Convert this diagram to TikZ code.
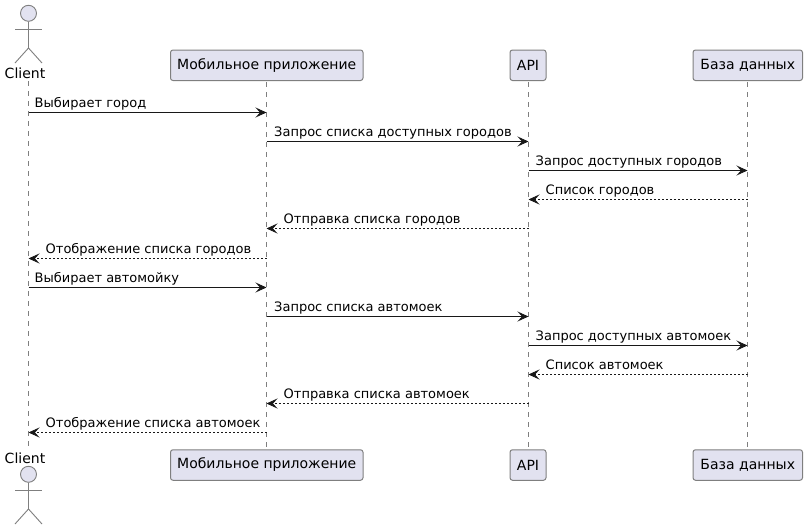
\documentclass[tikz,border=0pt]{standalone}
\usepackage{fontspec}
\setmainfont{DejaVu Sans}
\usetikzlibrary{arrows.meta,calc}
\definecolor{boxfill}{HTML}{E2E2F0}
\definecolor{linec}{HTML}{181818}
\definecolor{thinc}{HTML}{7F7F7F}
\tikzset{
  part/.style={draw=thinc,fill=boxfill,line width=1pt,rounded corners=2.5pt,inner sep=0pt,minimum height=30.5pt,font=\fontsize{14}{16}\selectfont,text=black},
  lifeline/.style={draw=thinc,line width=0.9pt,dash pattern=on 5pt off 5pt},
  actorline/.style={draw=thinc,line width=0.9pt,fill=none},
  head/.style={draw=thinc,line width=0.9pt,fill=boxfill,circle,minimum size=16pt,inner sep=0pt},
  actorlabel/.style={inner sep=0pt,font=\fontsize{14}{16}\selectfont,text=black},
  msglabel/.style={inner sep=0pt,anchor=base west,font=\fontsize{13}{15}\selectfont,text=black},
  msg/.style={draw=linec,line width=0.9pt,-{Stealth[length=11pt,width=10pt,inset=4.5pt,fill=linec]}},
  ret/.style={draw=linec,line width=0.7pt,dash pattern=on 2pt off 2pt,-{Stealth[length=11pt,width=10pt,inset=4.5pt,fill=linec,line width=0.7pt,sep=0pt]}},
}
\newcommand{\msgright}[6]{%
  \coordinate (m#1a) at (#2,#4);
  \coordinate (m#1b) at (#3,#4);
  \draw[msg] (m#1a) -- (m#1b);
  \node[msglabel] (t#1) at ($(m#1a)+(#6,-5)$) {#5};
}
\newcommand{\msgleft}[5]{%
  \coordinate (m#1a) at (#2,#4);
  \coordinate (m#1b) at (#3,#4);
  \draw[ret] (m#1a) -- (m#1b);
  \node[msglabel] (t#1) at ($(m#1b)+(17,-5)$) {#5};
}
\begin{document}
\begin{tikzpicture}[x=1pt,y=-1pt]
\useasboundingbox (0,0) rectangle (807,530);
% lifelines (behind the boxes)
\coordinate (clTop) at (28.5,81);
\coordinate (clBot) at (28.5,447);
\draw[lifeline] (clTop) -- (clBot);
% participants
\node[part,minimum width=192.5pt] (mobT) at (266.75,65.25) {Мобильное приложение};
\node[part,minimum width=36pt] (apiT) at (528,65.25) {API};
\node[part,minimum width=109.5pt] (dbT) at (747.75,65.25) {База данных};
\node[part,minimum width=192.5pt] (mobB) at (266.75,465) {Мобильное приложение};
\node[part,minimum width=36pt] (apiB) at (528,465) {API};
\node[part,minimum width=109.5pt] (dbB) at (747.75,465) {База данных};
% actors
\node[head] (headT) at (28.5,13.3) {};
\coordinate (hipT) at (28.5,48);
\coordinate (armLT) at (15,29);
\coordinate (armRT) at (42,29);
\coordinate (footLT) at (15,63);
\coordinate (footRT) at (42,63);
\draw[actorline] (headT.south) -- (hipT);
\draw[actorline] (armLT) -- (armRT);
\draw[actorline] (footLT) -- (hipT) -- (footRT);
\node[actorlabel] (clientT) at (25,73) {Client};
\node[actorlabel] (clientB) at (25,458) {Client};
\node[head] (headB) at (28.5,474.3) {};
\coordinate (hipB) at (28.5,509);
\coordinate (armLB) at (15,490);
\coordinate (armRB) at (42,490);
\coordinate (footLB) at (15,524);
\coordinate (footRB) at (42,524);
\draw[actorline] (headB.south) -- (hipB);
\draw[actorline] (armLB) -- (armRB);
\draw[actorline] (footLB) -- (hipB) -- (footRB);
% lifelines
\draw[lifeline] ([yshift=-1pt]mobT.south) -- ([yshift=1pt]mobB.north);
\draw[lifeline] ([xshift=0.5pt,yshift=-1pt]apiT.south) -- ([xshift=0.5pt,yshift=1pt]apiB.north);
\draw[lifeline] ([yshift=-1pt]dbT.south) -- ([yshift=1pt]dbB.north);
% messages
\msgright{1}{28.5}{266.5}{112.5}{Выбирает город}{6}
\msgright{2}{266.5}{528.5}{141.5}{Запрос списка доступных городов}{7.5}
\msgright{3}{528.5}{747.5}{170.5}{Запрос доступных городов}{7}
\msgleft{4}{747.5}{528.5}{199.5}{Список городов}
\msgleft{5}{528.5}{266.5}{228.5}{Отправка списка городов}
\msgleft{6}{266.5}{28.5}{258.5}{Отображение списка городов}
\msgright{7}{28.5}{266.5}{287.5}{Выбирает автомойку}{6}
\msgright{8}{266.5}{528.5}{316.5}{Запрос списка автомоек}{7.5}
\msgright{9}{528.5}{747.5}{345.5}{Запрос доступных автомоек}{7}
\msgleft{10}{747.5}{528.5}{374.5}{Список автомоек}
\msgleft{11}{528.5}{266.5}{403.5}{Отправка списка автомоек}
\msgleft{12}{266.5}{28.5}{432.5}{Отображение списка автомоек}
\end{tikzpicture}
\end{document}
